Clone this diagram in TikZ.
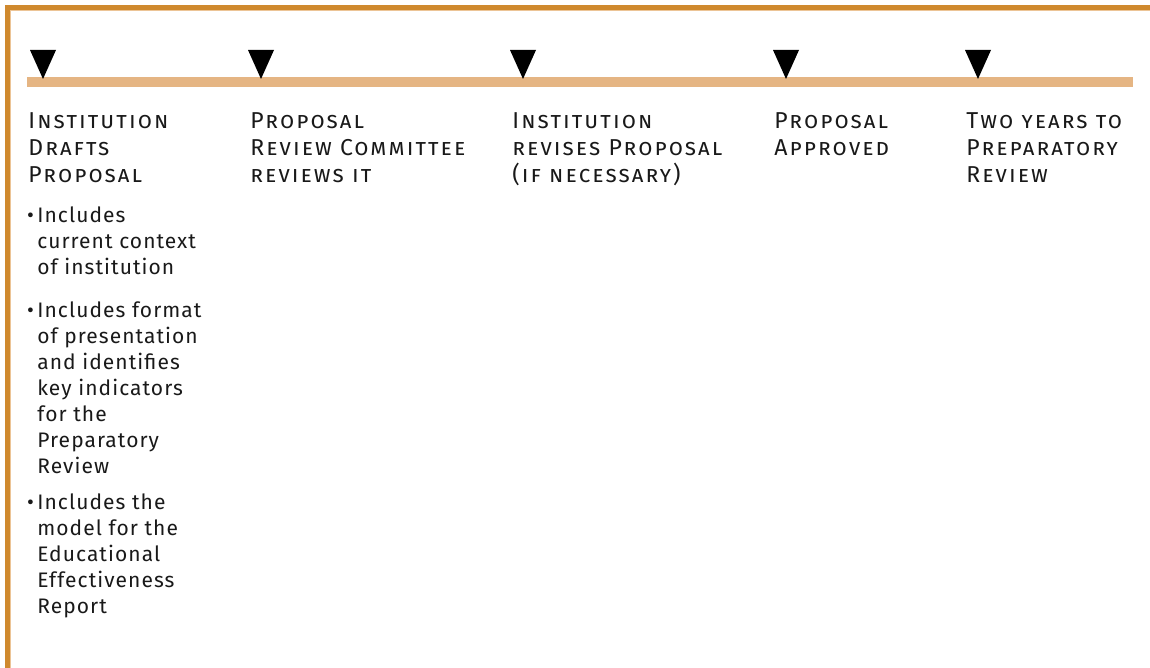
\documentclass[tikz,border=0pt]{standalone}
\usepackage{fontspec}
\setmainfont{Fira Sans}
\newfontfamily\headfont[Letters=SmallCaps,LetterSpace=9]{Fira Sans}
\newfontfamily\bodyfont[LetterSpace=5]{Fira Sans}
\usetikzlibrary{positioning}

\definecolor{framecol}{RGB}{207,137,46}
\definecolor{framelite}{RGB}{236,196,150}
\definecolor{barcol}{RGB}{229,181,131}

\tikzset{
  heading/.style={anchor=north west, inner sep=0pt, align=left,
    font=\headfont\fontsize{11.5}{13.5}\selectfont, text=black!90},
  item/.style={anchor=north west, inner sep=0pt, align=left,
    font=\bodyfont\fontsize{10.5}{13}\selectfont, text=black!90},
}

\begin{document}
\begin{tikzpicture}[x=0.5pt, y=-0.5pt]
            \useasboundingbox (0,0) rectangle (1150,668);

            % frame on the left and on top
            \draw[framecol, line width=2.5pt] (7.5,668) -- (7.5,7.5) -- (1150,7.5);
            \draw[framelite, line width=0.5pt] (10.5,668) -- (10.5,10.5) -- (1150,10.5);

            % time line
            \fill[barcol] (27,77) rectangle (1133,87);
            \foreach \x/\n in {43/a, 261/b, 523/c, 786/d, 978/e} {
                \coordinate (tip\n) at (\x,79);
                \fill (tip\n) ++(-13,-29) -- ++(26,0) -- (tip\n) -- cycle;
            }

            % steps
            \node[heading] (ha) at (28,112) {Institution\\Drafts\\Proposal};
            \node[heading] (hb) at (250,112) {Proposal\\Review Committee\\reviews it};
            \node[heading] (hc) at (512,112) {Institution\\revises Proposal\\(if necessary)};
            \node[heading] (hd) at (774,112) {Proposal\\Approved};
            \node[heading] (he) at (966,112) {Two years to\\Preparatory\\Review};

            % what the proposal includes
            \node[item] (ia) at (37,206) {\llap{\textbullet\,}Includes\\current context\\of institution};
            \node[item] (ib) at (37,301) {\llap{\textbullet\,}Includes format\\of presentation\\and identifies\\key indicators\\for the\\Preparatory\\Review};
            \node[item] (ic) at (37,493) {\llap{\textbullet\,}Includes the\\model for the\\Educational\\Effectiveness\\Report};
        \end{tikzpicture}
\end{document}
